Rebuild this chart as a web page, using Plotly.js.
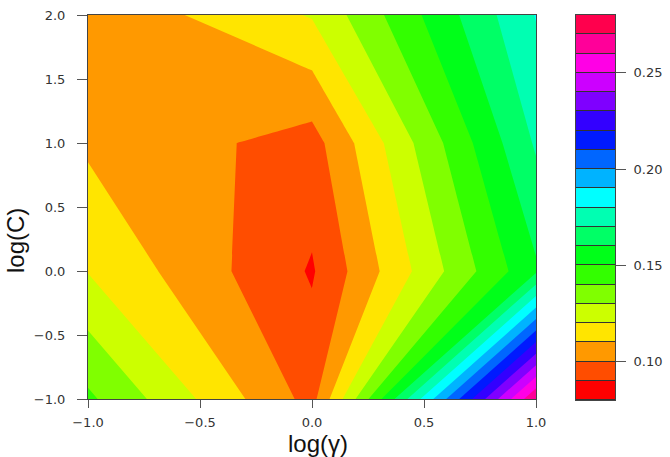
<!DOCTYPE html>
<html>
<head>
<meta charset="utf-8">
<script src="https://cdn.plot.ly/plotly-3.0.1.min.js"></script>
<style>html,body{margin:0;padding:0;background:#fff;}</style>
</head>
<body>
<div id="chart" style="width:670px;height:457px;"></div>
<script>
// Grid of tuning parameters (log10 scale)
const logGamma = [-1, 0, 1];
const logC = [-1, 0, 1, 2];
// Error rate at each grid point: rows follow logC, columns follow logGamma
const errRow_Cm1 = [0.142, 0.0965, 0.2695];
const errRow_C0  = [0.1196, 0.089, 0.1585];
const errRow_C1  = [0.1083, 0.0958, 0.1713];
const errRow_C2  = [0.1018, 0.1208, 0.1805];
// Contour level breaks (20 bands)
const levelBreaks = [0.08,0.09,0.10,0.11,0.12,0.13,0.14,0.15,0.16,0.17,0.18,0.19,0.20,0.21,0.22,0.23,0.24,0.25,0.26,0.27,0.28];
const bandColors = ['#FF0000','#FF4D00','#FF9900','#FFE500','#CCFF00','#80FF00','#33FF00','#00FF19','#00FF66','#00FFB2',
                    '#00FFFF','#00B3FF','#0066FF','#001AFF','#3300FF','#7F00FF','#CC00FF','#FF00E5','#FF0099','#FF004D'];
const barTicks = [0.10, 0.15, 0.20, 0.25];
const xTicks = [-1.0, -0.5, 0.0, 0.5, 1.0];
const yTicks = [-1.0, -0.5, 0.0, 0.5, 1.0, 1.5, 2.0];
const xTitle = 'log(γ)';
const yTitle = 'log(C)';

const z = [errRow_Cm1, errRow_C0, errRow_C1, errRow_C2];
const nb = bandColors.length;
const step = levelBreaks[1] - levelBreaks[0];
// stepped colour scale: band k is centred at (k+1)/(nb+1) of plotly's contour colour domain
const cs = [[0, bandColors[0]]];
for (let k = 0; k < nb; k++) {
  cs.push([(k + 0.5) / (nb + 1), bandColors[k]]);
  cs.push([(k + 1.5) / (nb + 1), bandColors[k]]);
}
cs.push([1, bandColors[nb - 1]]);

const mids = [];
for (let k = 0; k < nb; k++) mids.push((levelBreaks[k] + levelBreaks[k + 1]) / 2);

const tickFont = {family: 'DejaVu Sans, sans-serif', size: 13, color: '#333'};
const titleFont = {family: 'Liberation Sans, Arial, sans-serif', size: 24, color: '#111'};

const traces = [
  {
    type: 'contour', x: logGamma, y: logC, z: z,
    autocontour: false,
    contours: {start: levelBreaks[0], end: levelBreaks[levelBreaks.length - 1], size: step, coloring: 'fill', showlines: false},
    line: {width: 0, smoothing: 0},
    colorscale: cs, showscale: false, hoverinfo: 'skip'
  },
  {
    type: 'heatmap', x: [0], y: mids, z: mids.map(v => [v]),
    xaxis: 'x2', yaxis: 'y2',
    colorscale: cs, zmin: levelBreaks[0] - step / 2, zmax: levelBreaks[levelBreaks.length - 1] + step / 2,
    ygap: 1, showscale: false, hoverinfo: 'skip'
  }
];

const axisCommon = {
  showgrid: false, zeroline: false, showline: true, mirror: true,
  linecolor: '#444', linewidth: 1, ticks: 'outside', tickcolor: '#555', tickwidth: 1,
  tickfont: tickFont
};

const layout = {
  width: 670, height: 457,
  margin: {l: 88, r: 55, t: 15, b: 57},
  paper_bgcolor: '#fff', plot_bgcolor: '#333',
  showlegend: false,
  xaxis: Object.assign({}, axisCommon, {
    domain: [0, 0.8501], range: [-1, 1], tickvals: xTicks, tickformat: '.1f', ticklen: 8,
    ticklabelstandoff: 3
  }),
  yaxis: Object.assign({}, axisCommon, {
    domain: [0.002, 1], range: [-1, 2], tickvals: yTicks, tickformat: '.1f', ticklen: 10,
    ticklabelstandoff: 9
  }),
  xaxis2: {
    domain: [0.926, 1], range: [-0.5, 0.5], anchor: 'y2',
    showticklabels: false, ticks: '', showgrid: false, zeroline: false,
    showline: true, mirror: true, linecolor: '#444', linewidth: 1
  },
  yaxis2: Object.assign({}, axisCommon, {
    domain: [0, 1], range: [levelBreaks[0], levelBreaks[levelBreaks.length - 1]], anchor: 'x2', side: 'right',
    tickvals: barTicks, tickformat: '.2f', ticklen: 10, ticklabelstandoff: 5
  }),
  annotations: [
    {text: xTitle, xref: 'paper', yref: 'paper', x: 0.4364, y: -0.1117, xanchor: 'center', yanchor: 'middle',
     showarrow: false, font: titleFont},
    {text: yTitle, xref: 'paper', yref: 'paper', x: -0.1366, y: 0.413, xanchor: 'center', yanchor: 'middle',
     textangle: -90, showarrow: false, font: titleFont}
  ]
};

Plotly.newPlot('chart', traces, layout, {displayModeBar: false, staticPlot: true});
</script>
</body>
</html>
